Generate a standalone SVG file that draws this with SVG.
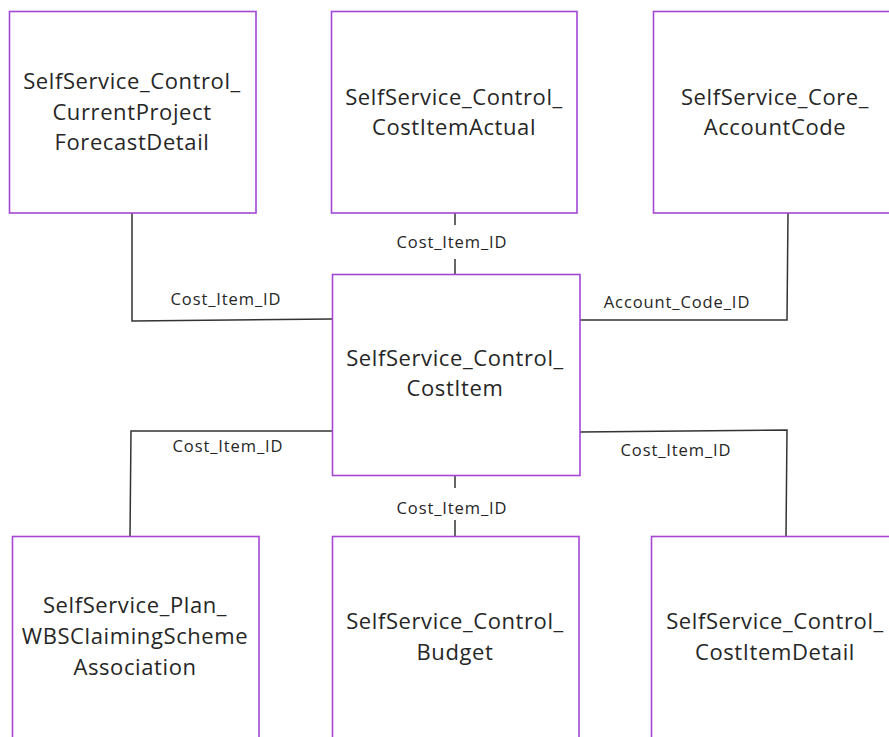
<svg xmlns="http://www.w3.org/2000/svg" width="889" height="737" viewBox="0 0 889 737">
<style>
.box{fill:#fff;stroke:#A347D6;stroke-width:1.6}
.t{font-family:"Open Sans","Liberation Sans",sans-serif;font-size:22px;letter-spacing:0.6px;fill:#262626;text-anchor:middle}
.l{font-family:"Open Sans","Liberation Sans",sans-serif;font-size:16.5px;letter-spacing:0.9px;fill:#262626;text-anchor:middle}
.c{fill:none;stroke:#333;stroke-width:1.5}
</style>
<rect width="889" height="737" fill="#fff"/>
<g id="connectors">
<polyline class="c" points="132,213 132,321 332,319"/>
<line class="c" x1="455" y1="213" x2="455" y2="225"/>
<line class="c" x1="455" y1="259" x2="455" y2="274"/>
<polyline class="c" points="788,213 787,320 580,320"/>
<polyline class="c" points="332,431 131,431 130,536"/>
<line class="c" x1="455" y1="475" x2="455" y2="488"/>
<line class="c" x1="455" y1="520" x2="455" y2="536"/>
<polyline class="c" points="580,432 787,430 786,536"/>
<text class="l" x="226" y="305">Cost_Item_ID</text>
<text class="l" x="452" y="248">Cost_Item_ID</text>
<text class="l" x="677" y="308">Account_Code_ID</text>
<text class="l" x="228" y="452">Cost_Item_ID</text>
<text class="l" x="452" y="514">Cost_Item_ID</text>
<text class="l" x="676" y="456">Cost_Item_ID</text>
</g>
<g id="n1"><rect class="box" x="9.5" y="11.5" width="246.5" height="201.5"/>
<text class="t" x="132" y="89">SelfService_Control_</text><text class="t" x="132" y="120">CurrentProject</text><text class="t" x="132" y="150">ForecastDetail</text></g>
<g id="n2"><rect class="box" x="331.5" y="11.5" width="245.5" height="201.5"/>
<text class="t" x="454" y="105">SelfService_Control_</text><text class="t" x="454" y="135">CostItemActual</text></g>
<g id="n3"><rect class="box" x="653.5" y="11.5" width="240" height="201.5"/>
<text class="t" x="775" y="105">SelfService_Core_</text><text class="t" x="775" y="135">AccountCode</text></g>
<g id="n4"><rect class="box" x="332.5" y="274.5" width="247.5" height="201"/>
<text class="t" x="455" y="366">SelfService_Control_</text><text class="t" x="455" y="396">CostItem</text></g>
<g id="n5"><rect class="box" x="12.5" y="536.5" width="246.5" height="210"/>
<text class="t" x="135" y="613">SelfService_Plan_</text><text class="t" x="135" y="644">WBSClaimingScheme</text><text class="t" x="135" y="675">Association</text></g>
<g id="n6"><rect class="box" x="332.5" y="536.5" width="246.5" height="210"/>
<text class="t" x="455" y="629">SelfService_Control_</text><text class="t" x="455" y="660">Budget</text></g>
<g id="n7"><rect class="box" x="651.5" y="536.5" width="245" height="210"/>
<text class="t" x="775" y="629">SelfService_Control_</text><text class="t" x="775" y="660">CostItemDetail</text></g>
</svg>
